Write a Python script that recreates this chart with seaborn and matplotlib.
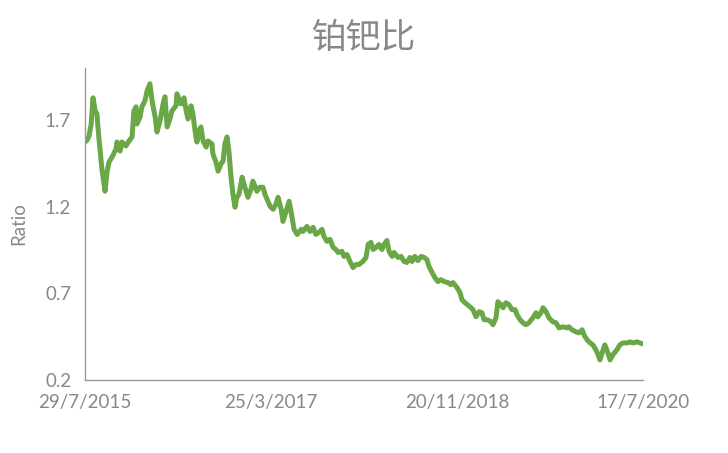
import matplotlib
matplotlib.use("Agg")
import matplotlib.pyplot as plt
import seaborn as sns
import pandas as pd

# Data: days since 29/7/2015 and Pt/Pd ratio
start_date = "2015-07-29"
days = [0, 7, 13, 20, 26, 33, 39, 42, 46, 52, 55, 65, 72, 78, 88, 101, 104, 114, 120, 133,
        143, 153, 159, 166, 169, 179, 185, 195, 202, 211, 218, 228, 234, 244, 254, 260, 267, 276, 283, 296,
        299, 312, 322, 329, 335, 345, 351, 358, 364, 371, 377, 384, 394, 400, 413, 416, 426, 433, 442, 449,
        455, 462, 468, 475, 481, 488, 494, 501, 511, 517, 524, 530, 540, 546, 553, 559, 569, 579, 585, 592,
        602, 612, 621, 628, 638, 644, 654, 664, 673, 680, 690, 703, 709, 722, 732, 742, 751, 761, 771, 777,
        787, 797, 807, 816, 823, 836, 842, 852, 862, 872, 881, 891, 904, 914, 921, 930, 937, 947, 956, 966,
        973, 982, 989, 999, 1005, 1018, 1028, 1038, 1047, 1057, 1064, 1073, 1083, 1093, 1103, 1112, 1119, 1129, 1138, 1148,
        1158, 1168, 1181, 1190, 1197, 1210, 1220, 1226, 1236, 1252, 1262, 1272, 1282, 1291, 1298, 1308, 1321, 1327, 1337, 1343,
        1353, 1360, 1369, 1379, 1389, 1399, 1405, 1415, 1425, 1434, 1444, 1457, 1467, 1473, 1483, 1490, 1500, 1509, 1522, 1532,
        1542, 1555, 1568, 1574, 1584, 1597, 1607, 1617, 1623, 1633, 1643, 1652, 1662, 1669, 1675, 1682, 1691, 1701, 1708, 1717,
        1730, 1740, 1750, 1763, 1773, 1782, 1796, 1805, 1815]
ratio = [1.573, 1.585, 1.608, 1.677, 1.828, 1.753, 1.735, 1.660, 1.579, 1.475, 1.417, 1.289, 1.405, 1.457, 1.486, 1.533, 1.573, 1.521, 1.573, 1.550,
         1.579, 1.602, 1.753, 1.776, 1.677, 1.718, 1.776, 1.811, 1.869, 1.909, 1.811, 1.718, 1.631, 1.695, 1.793, 1.834, 1.660, 1.706, 1.753, 1.782,
         1.851, 1.793, 1.828, 1.753, 1.706, 1.782, 1.735, 1.637, 1.573, 1.637, 1.660, 1.579, 1.544, 1.579, 1.562, 1.504, 1.457, 1.405, 1.446, 1.463,
         1.562, 1.602, 1.521, 1.370, 1.272, 1.197, 1.254, 1.272, 1.370, 1.330, 1.289, 1.254, 1.301, 1.347, 1.318, 1.289, 1.312, 1.312, 1.272, 1.243,
         1.202, 1.185, 1.214, 1.254, 1.185, 1.115, 1.173, 1.231, 1.144, 1.069, 1.040, 1.069, 1.057, 1.086, 1.057, 1.081, 1.040, 1.052, 1.069, 1.029,
         1.000, 1.011, 0.965, 0.953, 0.936, 0.942, 0.913, 0.924, 0.884, 0.849, 0.866, 0.866, 0.884, 0.907, 0.982, 0.994, 0.953, 0.965, 0.982, 0.953,
         0.982, 1.005, 0.942, 0.913, 0.936, 0.907, 0.913, 0.884, 0.878, 0.907, 0.884, 0.913, 0.889, 0.913, 0.907, 0.895, 0.855, 0.820, 0.791, 0.768,
         0.779, 0.768, 0.762, 0.750, 0.762, 0.733, 0.704, 0.663, 0.646, 0.623, 0.606, 0.565, 0.594, 0.588, 0.548, 0.548, 0.536, 0.519, 0.559, 0.652,
         0.635, 0.617, 0.646, 0.635, 0.606, 0.606, 0.577, 0.548, 0.530, 0.519, 0.530, 0.559, 0.588, 0.565, 0.588, 0.617, 0.594, 0.559, 0.536, 0.530,
         0.501, 0.507, 0.501, 0.507, 0.490, 0.478, 0.472, 0.490, 0.461, 0.432, 0.414, 0.403, 0.374, 0.345, 0.316, 0.356, 0.403, 0.356, 0.316, 0.345,
         0.374, 0.403, 0.414, 0.414, 0.420, 0.414, 0.420, 0.414, 0.409]

x_tick_dates = ["2015-07-29", "2017-03-25", "2018-11-20", "2020-07-17"]
x_tick_labels = ["29/7/2015", "25/3/2017", "20/11/2018", "17/7/2020"]
y_ticks = [0.2, 0.7, 1.2, 1.7]
y_tick_labels = ["0.2", "0.7", "1.2", "1.7"]
title = "铂钯比"
y_label = "Ratio"

df = pd.DataFrame({
    "date": pd.Timestamp(start_date) + pd.to_timedelta(days, unit="D"),
    "ratio": ratio,
})

sns.set_theme(style="white")
plt.rcParams["font.family"] = ["Lato", "Noto Sans CJK SC", "DejaVu Sans"]

gray = "#888888"
fig = plt.figure(figsize=(7.28, 4.53), dpi=100)
ax = fig.add_axes([0.1168, 0.1611, 0.7664, 0.6888])

sns.lineplot(data=df, x="date", y="ratio", ax=ax, color="#6aa746", linewidth=3.6)

tick_dates = pd.to_datetime(x_tick_dates)
ax.set_xlim(tick_dates[0], tick_dates[-1])
ax.set_xticks(tick_dates)
ax.set_xticklabels(x_tick_labels)
ax.set_ylim(0.2, 2.0)
ax.set_yticks(y_ticks)
ax.set_yticklabels(y_tick_labels)

for s in ["top", "right"]:
    ax.spines[s].set_visible(False)
for s in ["left", "bottom"]:
    ax.spines[s].set_color("#9a9a9a")
    ax.spines[s].set_linewidth(1.0)

ax.tick_params(axis="both", which="major", direction="out", length=5, width=1,
               color="#9a9a9a", labelcolor=gray, labelsize=13.5, pad=5)
ax.set_xlabel("")
ax.set_ylabel(y_label, color=gray, fontsize=13.5, labelpad=13)

fig.text(0.5, 0.915, title, ha="center", va="center", fontsize=25, color=gray,
         family=["Noto Sans CJK SC", "DejaVu Sans"])

fig.savefig("out.png", dpi=100)
